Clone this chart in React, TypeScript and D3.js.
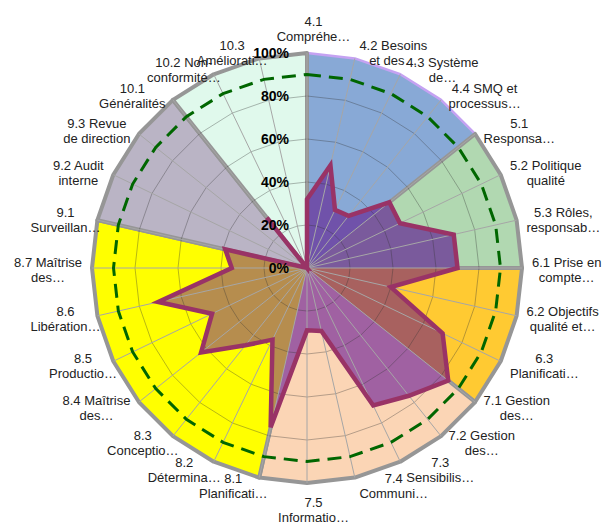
import { useMemo } from "react";
import * as d3 from "d3";

// ISO 9001 clauses, clockwise from 12 o'clock
const categories = [
  "4.1", "4.2", "4.3", "4.4", "5.1", "5.2", "5.3", "6.1", "6.2", "6.3",
  "7.1", "7.2", "7.3", "7.4", "7.5", "8.1", "8.2", "8.3", "8.4", "8.5",
  "8.6", "8.7", "9.1", "9.2", "9.3", "10.1", "10.2", "10.3",
];

// axis labels as Excel shows them (wrapped + truncated)
const labelLines = [
  ["4.1", "Compréhe…"],
  ["4.2 Besoins", "et des…"],
  ["4.3 Système", "de…"],
  ["4.4 SMQ et", "processus…"],
  ["5.1", "Responsa…"],
  ["5.2 Politique", "qualité"],
  ["5.3 Rôles,", "responsab…"],
  ["6.1 Prise en", "compte…"],
  ["6.2 Objectifs", "qualité et…"],
  ["6.3", "Planificati…"],
  ["7.1 Gestion", "des…"],
  ["7.2 Gestion", "des…"],
  ["7.3", "Sensibilis…"],
  ["7.4", "Communi…"],
  ["7.5", "Informatio…"],
  ["8.1", "Planificati…"],
  ["8.2", "Détermina…"],
  ["8.3", "Conceptio…"],
  ["8.4 Maîtrise", "des…"],
  ["8.5", "Productio…"],
  ["8.6", "Libération…"],
  ["8.7 Maîtrise", "des…"],
  ["9.1", "Surveillan…"],
  ["9.2 Audit", "interne"],
  ["9.3 Revue", "de direction"],
  ["10.1", "Généralités"],
  ["10.2 Non-", "conformité…"],
  ["10.3", "Améliorati…"],
];

// compliance score per clause
const scores = [
  0.32, 0.49, 0.30, 0.31, 0.49, 0.48, 0.70, 0.70, 0.40, 0.70,
  0.84, 0.76, 0.71, 0.30, 0.29, 0.76, 0.37, 0.46, 0.63, 0.49,
  0.71, 0.35, 0.39, 0, 0, 0.30, 0, 0,
];

// target line
const target = [
  0.9, 0.9, 0.9, 0.9, 0.9, 0.9, 0.9, 0.9, 0.9, 0.9,
  0.9, 0.9, 0.9, 0.9, 0.9, 0.9, 0.9, 0.9, 0.9, 0.9,
  0.9, 0.9, 0.9, 0.9, 0.9, 0.9, 0.9, 0.9,
];

const ticks = [0, 0.2, 0.4, 0.6, 0.8, 1];
const tickLabels = ["0%", "20%", "40%", "60%", "80%", "100%"];

// chapter background colours + colour of the score area over each
const chapterFill = ["#88a9d6", "#b1d8b1", "#ffca32", "#fbd5b5", "#ffff00", "#bab4c5", "#e0f9ec"];
const chapterOver = ["#7052aa", "#7a5a9c", "#a8615f", "#a061a2", "#b68d4e", "#946c9a", "#9a6aa8"];

const W = 604;
const H = 523;
const CX = 307;
const CY = 268;
const R = 215;
const LABEL_FONT = "13px 'Liberation Sans', Arial, sans-serif";

let ctx: CanvasRenderingContext2D | null = null;
function textWidth(s: string) {
  if (!ctx) ctx = document.createElement("canvas").getContext("2d");
  if (!ctx) return s.length * 7;
  ctx.font = LABEL_FONT;
  return ctx.measureText(s).width;
}

export default function App() {
  const N = categories.length;
  const angle = d3.scaleLinear().domain([0, N]).range([0, 2 * Math.PI]);
  const radius = d3.scaleLinear().domain([0, 1]).range([0, R]);

  const radial = d3
    .lineRadial<number>()
    .angle((_, i) => angle(i))
    .radius((d) => radius(d))
    .curve(d3.curveLinearClosed);

  const polar = d3
    .lineRadial<[number, number]>()
    .angle((d) => d[0])
    .radius((d) => d[1])
    .curve(d3.curveLinearClosed);

  // group consecutive clauses by chapter
  const chapters = useMemo(() => {
    const out: { name: string; from: number; to: number }[] = [];
    categories.forEach((c, i) => {
      const ch = c.split(".")[0];
      if (!out.length || out[out.length - 1].name !== ch) out.push({ name: ch, from: i, to: i });
    });
    out.forEach((c, k) => (c.to = k < out.length - 1 ? out[k + 1].from : N));
    return out;
  }, [N]);

  const wedgePath = (from: number, to: number) => {
    const pts: [number, number][] = [[0, 0]];
    for (let k = from; k <= to; k++) pts.push([angle(k), radius(1)]);
    return polar(pts) || "";
  };

  const scorePath = radial(scores) || "";

  const labels = labelLines.map((lines, i) => {
    const a = angle(i);
    const s = Math.sin(a);
    const c = Math.cos(a);
    const lr = R + 7;
    const px = lr * s;
    const py = -lr * c;
    const full = d3.max(lines, (l) => textWidth(l)) || 0;
    const core = d3.max(lines, (l) => textWidth(l.replace(/…$/, ""))) || 0;
    let left;
    if (Math.abs(s) < 1e-6) left = px - core / 2;
    else if (s > 0) left = px + 3;
    else left = px - 3 - core;
    const lx = left + full / 2;
    let ly;
    if (Math.abs(s) < 1e-6 && c > 0) ly = py - 17.5;
    else if (Math.abs(s) < 1e-6) ly = py + 20;
    else ly = py + 1.5;
    return { lines, lx, ly };
  });

  return (
    <div style={{ position: "absolute", left: 0, top: 0 }}>
      <svg width={W} height={H} style={{ display: "block", background: "#fff" }}>
        <defs>
          {chapters.map((ch, k) => (
            <clipPath key={ch.name} id={`clip-${k}`}>
              <path d={wedgePath(ch.from, ch.to)} />
            </clipPath>
          ))}
        </defs>
        <g transform={`translate(${CX},${CY})`}>
          {/* chapter wedges */}
          {chapters.map((ch, k) => (
            <path
              key={ch.name}
              d={wedgePath(ch.from, ch.to)}
              fill={chapterFill[k]}
              stroke={k === 0 ? "#c5a2f2" : "#969696"}
              strokeWidth={k === 0 ? 2.5 : 4}
              strokeLinejoin="round"
            />
          ))}

          {/* score area, tinted per chapter */}
          {chapters.map((ch, k) => (
            <path key={ch.name} d={scorePath} fill={chapterOver[k]} clipPath={`url(#clip-${k})`} />
          ))}

          {/* rings */}
          {ticks.slice(1, -1).map((t) => (
            <path
              key={t}
              d={radial(categories.map(() => t)) || ""}
              fill="none"
              stroke="#333"
              strokeOpacity={0.35}
              strokeWidth={1}
            />
          ))}

          {/* spokes */}
          {categories.map((c, i) => (
            <line
              key={c}
              x1={0}
              y1={0}
              x2={radius(1) * Math.sin(angle(i))}
              y2={-radius(1) * Math.cos(angle(i))}
              stroke="#a6a6a6"
              strokeWidth={1}
            />
          ))}
          <circle r={3} fill="#a6a6a6" />

          {/* score outline */}
          <path d={scorePath} fill="none" stroke="#993366" strokeWidth={4.5} strokeLinejoin="miter" />

          {/* target */}
          <path
            d={radial(target) || ""}
            fill="none"
            stroke="#006600"
            strokeWidth={3}
            strokeDasharray="14 8"
          />

          {/* value axis labels */}
          {ticks.map((t, i) => (
            <text
              key={t}
              x={-18}
              y={-radius(t)}
              dy="0.35em"
              textAnchor="end"
              fontFamily="'Liberation Sans', Arial, sans-serif"
              fontWeight="bold"
              fontSize={14}
              fill="#000"
            >
              {tickLabels[i]}
            </text>
          ))}

          {/* category labels */}
          {labels.map((l, i) => (
            <text
              key={categories[i]}
              textAnchor="middle"
              fontFamily="'Liberation Sans', Arial, sans-serif"
              fontSize={13}
              fill="#222"
            >
              {l.lines.map((line, j) => (
                <tspan key={j} x={l.lx} y={l.ly - 7.5 + j * 15} dy="0.35em">
                  {line}
                </tspan>
              ))}
            </text>
          ))}
        </g>
      </svg>
    </div>
  );
}
